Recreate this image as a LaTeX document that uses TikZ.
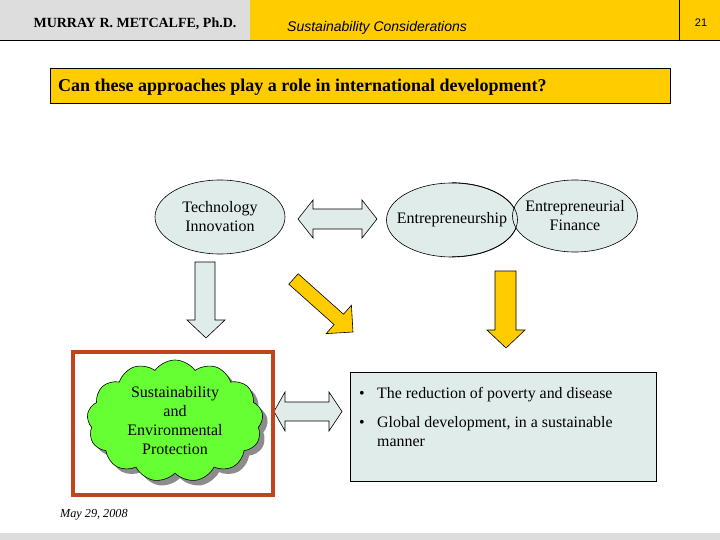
\documentclass[tikz,border=0pt]{standalone}
\usepackage{fontspec}
\setmainfont{Liberation Serif}
\setsansfont{Liberation Sans}
\usepackage{xcolor}
\usetikzlibrary{shapes.geometric,shapes.symbols,shadows}

\definecolor{hdrgray}{HTML}{DDDDDD}
\definecolor{slideyellow}{HTML}{FFCC00}
\definecolor{paleblue}{HTML}{E0ECEA}
\definecolor{boxred}{HTML}{C0441C}
\definecolor{cloudgreen}{HTML}{66FF33}

\begin{document}
\begin{tikzpicture}[
  x=1pt, y=-1pt,
  bubble/.style={ellipse,draw=black,line width=0.6pt,fill=paleblue,inner sep=0pt},
  bubbletext/.style={align=center,inner sep=0pt,font=\fontsize{16}{19}\selectfont},
  blockarrow/.style={draw=black,line width=0.6pt,line join=miter},
  bodytext/.style={font=\fontsize{15.9}{19}\selectfont,inner sep=0pt}
]
  \useasboundingbox (0,0) rectangle (720,540);
  % header band
  \fill[hdrgray] (0,0) rectangle (250,40);
  \fill[slideyellow] (250,0) rectangle (720,40);
  \draw[line width=0.8pt] (679,0) -- (679,40);
  \draw[line width=0.8pt] (0,40) -- (720,40);
  \node[font=\bfseries\fontsize{14}{16}\selectfont,anchor=base] (author) at (135,28) {MURRAY R. METCALFE, Ph.D.};
  \node[font=\sffamily\itshape\fontsize{14}{16}\selectfont,anchor=base west,inner sep=0pt] (topic) at (287,32) {Sustainability Considerations};
  \node[font=\sffamily\fontsize{11}{13}\selectfont] (pagenum) at (701,23) {21};
  \fill[hdrgray] (0,533) rectangle (720,540);

  % question
  \draw[fill=slideyellow,line width=0.6pt] (50,68) rectangle (670,103);
  \node[font=\bfseries\fontsize{18}{21}\selectfont,anchor=west,inner sep=0pt] (question) at (58,87) {Can these approaches play a role in international development?};

  % ellipses
  \node[bubble,minimum width=130,minimum height=74] (tech) at (220,217) {};
  \node[bubble,minimum width=131,minimum height=74] (entre) at (452,220) {};
  \node[bubble,minimum width=125,minimum height=72] (finance) at (575,216) {};
  \draw[line width=0.6pt] (entre.north) arc[start angle=-90,end angle=90,x radius=65.5,y radius=37];
  \node[bubbletext] (techtext) at (tech) {Technology\\Innovation};
  \node[bubbletext] (entretext) at (entre) {Entrepreneurship};
  \node[bubbletext] (financetext) at (finance) {Entrepreneurial\\Finance};

  % block arrows
  \draw[blockarrow,fill=paleblue] (298,219) -- (313,200) -- (313,209) -- (362,209) -- (362,200)
    -- (377,219) -- (362,238) -- (362,229) -- (313,229) -- (313,238) -- cycle;
  \draw[blockarrow,fill=paleblue] (195,262) -- (215,262) -- (215,320) -- (225,320) -- (206,338)
    -- (187,320) -- (195,320) -- cycle;
  \draw[blockarrow,fill=slideyellow] (298.2,273.8) -- (343.5,314.2) -- (351.4,305.2) -- (353,332)
    -- (326.2,333.6) -- (334.1,324.6) -- (288.8,284.2) -- cycle;
  \draw[blockarrow,fill=slideyellow] (495,271) -- (516,271) -- (516,330) -- (525,330) -- (506,348)
    -- (487,330) -- (495,330) -- cycle;
  \draw[blockarrow,fill=paleblue] (274,411.5) -- (285,392) -- (285,402) -- (329,402) -- (329,392)
    -- (342,411.5) -- (329,431) -- (329,421) -- (285,421) -- (285,431) -- cycle;

  % sustainability cloud
  \draw[boxred,line width=4pt] (73,352) rectangle (273,495);
  \node[cloud,cloud puffs=13,cloud puff arc=110,aspect=1.45,draw=black,line width=0.6pt,
    fill=cloudgreen,minimum width=176,minimum height=122,inner sep=0pt,
    drop shadow={shadow xshift=5pt,shadow yshift=-5pt,fill=black!45,opacity=1},
    align=center,font=\fontsize{16}{19}\selectfont] (cloud) at (175,421)
    {Sustainability\\and\\Environmental\\Protection};

  % outcomes
  \node[draw=black,line width=0.6pt,fill=paleblue,minimum width=306,minimum height=109,
    inner sep=0pt] (outcome) at (503,426.5) {};
  \node[bodytext] (dotA) at (362,395) {\textbullet};
  \node[bodytext] (dotB) at (362,424) {\textbullet};
  \node[bodytext,anchor=base west] (lineA) at (377,398) {The reduction of poverty and disease};
  \node[bodytext,anchor=base west,align=left] (lineB) at (377,446) {Global development, in a sustainable\\manner};

  \node[font=\itshape\fontsize{12.2}{14}\selectfont,anchor=west,inner sep=0pt] (date) at (60,515) {May 29, 2008};
\end{tikzpicture}
\end{document}
